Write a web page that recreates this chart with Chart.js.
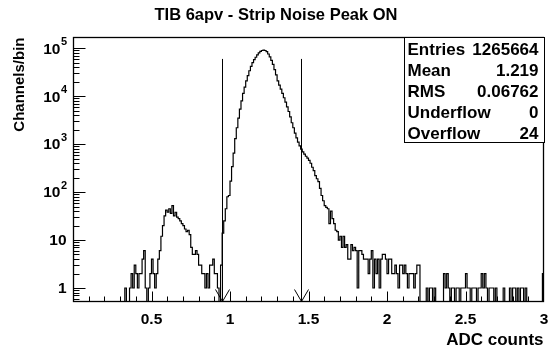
<!DOCTYPE html>
<html>
<head>
<meta charset="utf-8">
<script src="https://cdn.jsdelivr.net/npm/chart.js@4.4.1/dist/chart.umd.min.js"></script>
<style>
  html, body { margin: 0; padding: 0; background: #fff; }
  #wrap { width: 550px; height: 349px; }
</style>
</head>
<body>
<div id="wrap"><canvas id="noiseChart" width="550" height="349"></canvas></div>
<script>
// 300 bins of 0.01 ADC counts between 0 and 3
const xMin = 0;
const xMax = 3;
const binWidth = 0.01;
const counts = [
  0, 0, 0, 0, 0, 0, 0, 0, 0, 0,
  0, 0, 0, 0, 0, 0, 0, 0, 0, 0,
  0, 0, 0, 0, 0, 0, 0, 0, 0, 0,
  0, 0, 0, 1, 0, 0, 1, 2, 1, 3,
  2, 1, 2, 2, 4, 6, 1, 0, 1, 2,
  4, 2, 1, 2, 4, 6, 12, 20, 32, 42,
  38, 45, 36, 52, 32, 38, 30, 28, 25, 22,
  20, 17, 15, 16, 13, 7, 5, 5, 6, 5,
  3, 3, 2, 2, 1, 2, 1, 3, 3, 4,
  2, 2, 1, 0, 3, 14, 25, 45, 80, 85,
  170, 340, 650, 1300, 2200, 3500, 5400, 8000, 11500, 15500,
  21000, 27000, 34000, 42000, 50000, 58000, 65000, 73000, 80000, 86000,
  90000, 92000, 90000, 85000, 76000, 66000, 56000, 46000, 36000, 28000,
  21000, 17000, 14000, 11500, 9300, 7500, 6000, 4800, 3700, 2800,
  2200, 1700, 1350, 1100, 920, 790, 690, 620, 560, 510,
  460, 400, 330, 280, 220, 190, 165, 120, 85, 66,
  52, 48, 45, 22, 40, 28, 22, 16, 15, 10,
  12, 7, 12, 7, 8, 4, 4, 8, 6, 7,
  6, 1, 6, 6, 5, 4, 4, 4, 2, 4,
  6, 1, 4, 2, 4, 1, 4, 5, 5, 4,
  2, 4, 4, 2, 2, 3, 2, 1, 3, 3,
  2, 3, 2, 1, 2, 2, 2, 1, 2, 3,
  3, 0, 0, 0, 0, 1, 0, 1, 1, 0,
  1, 0, 0, 0, 0, 0, 2, 1, 2, 1,
  0, 1, 1, 0, 1, 1, 0, 1, 1, 1,
  2, 1, 1, 0, 1, 1, 1, 0, 1, 1,
  2, 1, 2, 1, 0, 1, 1, 1, 0, 1,
  0, 0, 0, 0, 1, 0, 0, 0, 1, 0,
  1, 1, 0, 1, 0, 1, 1, 0, 1, 0,
  0, 0, 0, 0, 0, 0, 0, 0, 0, 2
];

const yMin = 0.51;
const yMax = 1.72e5;
const xTickValues = [0.5, 1, 1.5, 2, 2.5, 3];
const xTickLabels = ['0.5', '1', '1.5', '2', '2.5', '3'];
const yTickValues = [1, 10, 100, 1000, 10000, 100000];
const yTickBases = ['1', '10', '10', '10', '10', '10'];
const yTickExps = ['', '', '2', '3', '4', '5'];

// cut markers drawn as arrows
const cutValues = [0.95, 1.45];
const cutTop = 6e4;

const statNames = ['Entries', 'Mean', 'RMS', 'Underflow', 'Overflow'];
const statValues = ['1265664', '1.219', '0.06762', '0', '24'];

const titleText = 'TIB 6apv - Strip Noise Peak ON';
const xTitle = 'ADC counts';
const yTitle = 'Channels/bin';

const FONT = '"Liberation Sans", Arial, Helvetica, sans-serif';

// empty bins go below the frame so the outline drops to the bottom
const points = counts.map((c, i) => ({ x: xMin + i * binWidth, y: c > 0 ? c : 0.1 }));
points.push({ x: xMax, y: counts[counts.length - 1] > 0 ? counts[counts.length - 1] : 0.1 });

const rootFrame = {
  id: 'rootFrame',
  afterDatasetsDraw(chart) {
    const { ctx, chartArea: area, scales } = chart;
    const xs = scales.x, ys = scales.y;
    const left = Math.round(area.left) + 0.5;
    const right = Math.round(area.right) - 0.5;
    const top = Math.round(area.top) + 0.5;
    const bottom = Math.round(area.bottom) - 0.5;

    ctx.save();
    ctx.strokeStyle = '#000';
    ctx.fillStyle = '#000';
    ctx.lineWidth = 1;

    // arrows
    cutValues.forEach(v => {
      const px = Math.round(xs.getPixelForValue(v)) + 0.5;
      const py = ys.getPixelForValue(cutTop);
      ctx.beginPath();
      ctx.moveTo(px, py);
      ctx.lineTo(px, bottom);
      ctx.moveTo(px - 7, bottom - 12);
      ctx.lineTo(px, bottom);
      ctx.lineTo(px + 7, bottom - 12);
      ctx.stroke();
    });

    // frame
    ctx.lineWidth = 1.3;
    ctx.strokeRect(left, top, right - left, bottom - top);
    ctx.lineWidth = 1;

    // ticks
    ctx.beginPath();
    for (let k = 1; k < 30; k++) {
      const px = Math.round(xs.getPixelForValue(k / 10)) + 0.5;
      const len = k % 5 === 0 ? 10 : 5;
      ctx.moveTo(px, bottom);
      ctx.lineTo(px, bottom - len);
    }
    for (let d = -1; d <= 5; d++) {
      for (let m = 1; m <= 9; m++) {
        const v = m * Math.pow(10, d);
        if (v < yMin || v > yMax) continue;
        const py = Math.round(ys.getPixelForValue(v)) + 0.5;
        const len = m === 1 ? 12 : 6;
        ctx.moveTo(left, py);
        ctx.lineTo(left + len, py);
      }
    }
    ctx.stroke();

    // x labels
    ctx.font = 'bold 15.5px ' + FONT;
    ctx.textAlign = 'center';
    ctx.textBaseline = 'alphabetic';
    xTickValues.forEach((v, i) => {
      ctx.fillText(xTickLabels[i], xs.getPixelForValue(v), bottom + 22);
    });

    // y labels
    ctx.textBaseline = 'middle';
    ctx.textAlign = 'left';
    yTickValues.forEach((v, i) => {
      const py = ys.getPixelForValue(v) + 1;
      ctx.font = 'bold 15.5px ' + FONT;
      const wb = ctx.measureText(yTickBases[i]).width;
      ctx.font = 'bold 11px ' + FONT;
      const we = yTickExps[i] ? ctx.measureText(yTickExps[i]).width : 0;
      const x0 = left - 7 - wb - we;
      ctx.font = 'bold 15.5px ' + FONT;
      ctx.fillText(yTickBases[i], x0, py);
      if (yTickExps[i]) {
        ctx.font = 'bold 11px ' + FONT;
        ctx.fillText(yTickExps[i], x0 + wb + 0.5, py - 7);
      }
    });

    // titles
    ctx.font = 'bold 16.5px ' + FONT;
    ctx.textAlign = 'center';
    ctx.textBaseline = 'middle';
    ctx.fillText(titleText, 276, 15);

    ctx.font = 'bold 17px ' + FONT;
    ctx.textAlign = 'right';
    ctx.textBaseline = 'alphabetic';
    ctx.fillText(xTitle, right, 345);

    ctx.save();
    ctx.translate(20, top);
    ctx.rotate(-Math.PI / 2);
    ctx.font = 'bold 15px ' + FONT;
    ctx.textAlign = 'right';
    ctx.textBaseline = 'middle';
    ctx.fillText(yTitle, 0, 0);
    ctx.restore();

    // stats box
    const bx = 404.5, by = top, bw = right + 1 - bx, bh = 105;
    ctx.fillStyle = '#fff';
    ctx.fillRect(bx, by, bw, bh);
    ctx.strokeRect(bx, by, bw, bh);
    ctx.fillStyle = '#000';
    ctx.font = 'bold 17px ' + FONT;
    ctx.textBaseline = 'middle';
    statNames.forEach((name, i) => {
      const ty = by + 13 + i * 21;
      ctx.textAlign = 'left';
      ctx.fillText(name, bx + 3, ty);
      ctx.textAlign = 'right';
      ctx.fillText(statValues[i], bx + bw - 6, ty);
    });

    ctx.restore();
  }
};

new Chart(document.getElementById('noiseChart'), {
  type: 'line',
  data: {
    datasets: [{
      label: 'Strip noise',
      data: points,
      stepped: true,
      borderColor: '#000',
      borderWidth: 1.2,
      pointRadius: 0,
      fill: false,
      tension: 0,
      clip: 0
    }]
  },
  options: {
    responsive: false,
    animation: false,
    layout: { padding: { left: 73, right: 6, top: 37, bottom: 47 } },
    plugins: {
      legend: { display: false },
      title: { display: false },
      tooltip: { enabled: false }
    },
    scales: {
      x: { type: 'linear', min: xMin, max: xMax, display: false },
      y: { type: 'logarithmic', min: yMin, max: yMax, display: false }
    }
  },
  plugins: [rootFrame]
});
</script>
</body>
</html>
